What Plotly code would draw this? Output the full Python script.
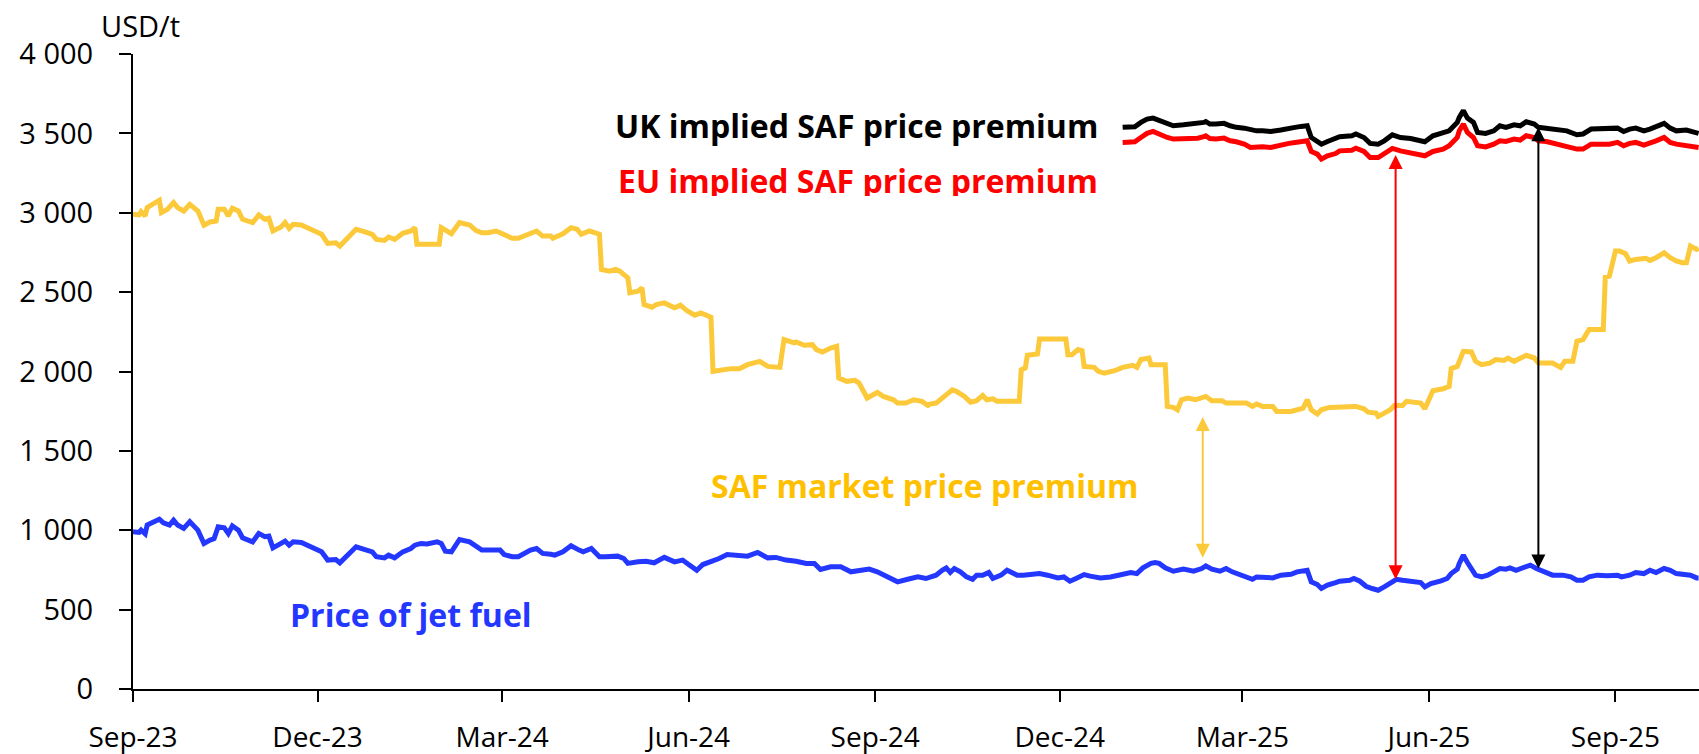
import pandas as pd
import plotly.graph_objects as go

START = pd.Timestamp("2023-09-01")

# ---- data (day offsets from 1 Sep 2023, values in USD/t) ----
jet_days = [0, 3, 4, 6, 7, 9, 13, 15, 18, 20, 22, 25, 28, 32, 33, 35, 38, 40, 42, 45,
            47, 49, 52, 54, 59, 62, 65, 67, 69, 73, 75, 77, 79, 83, 86, 90, 93, 96, 100, 102,
            106, 110, 114, 118, 120, 124, 126, 129, 133, 137, 139, 142, 145, 150, 152, 154, 157, 159, 161, 166,
            169, 172, 175, 179, 181, 183, 187, 190, 193,
            196, 199, 202, 206, 208, 212, 216, 220, 222, 226, 230, 233, 235, 239, 242, 244, 249, 253, 257, 262,
            267, 271, 274, 278, 281, 286, 289, 293, 299, 303, 308, 313, 317, 322, 327, 332, 336, 339, 344, 349,
            354, 359, 363, 367, 372, 377, 382, 387, 391,
            393, 396, 399, 401, 403, 405, 408, 411, 414, 416, 419, 422, 424, 428, 431, 436, 439, 442, 447, 451,
            456, 459, 462, 465, 469, 472, 477, 482, 487, 492, 495, 498, 502, 504, 506, 509, 513, 518, 523, 527,
            529, 532, 536, 539, 542, 546, 549, 552, 554, 557, 562, 566, 571, 574, 577, 579, 581, 584, 586, 589,
            593, 595,
            600, 602, 605, 608, 611, 614, 617, 620, 623, 626, 631, 635, 637, 640, 645, 648, 650, 653, 654, 656,
            658, 660, 662, 665, 668, 671, 674, 677, 679, 682, 686, 689, 692, 696, 700, 705, 709, 712, 715, 718,
            722, 727, 732, 734, 738, 741, 745, 748, 751, 755, 758, 761, 764, 768, 771, 772]
jet_fuel = [990, 986, 1001, 978, 1033, 1047, 1070, 1047, 1033, 1064, 1033, 1012, 1054, 1001, 970, 917, 938, 948, 1022, 1016,
            980, 1028, 1001, 953, 927, 980, 959, 963, 889, 917, 932, 906, 927, 923, 906, 875, 864, 812, 816, 795,
            843, 896, 879, 864, 833, 826, 843, 826, 864, 885, 906, 917, 913, 927, 917, 868, 864, 906, 942, 927,
            896, 875, 875, 875, 875, 847, 833, 833, 854,
            875, 885, 854, 849, 843, 864, 902, 875, 864, 885, 833, 833, 833, 837, 822, 791, 801, 805, 795, 829,
            801, 812, 784, 748, 784, 805, 822, 847, 839, 837, 860, 826, 829, 812, 805, 791, 791, 753, 770, 770,
            738, 749, 755, 738, 706, 675, 691, 706, 696,
            706, 717, 748, 763, 734, 759, 738, 706, 691, 717, 717, 734, 696, 717, 748, 717, 717, 721, 727, 717,
            700, 706, 679, 696, 721, 711, 700, 706, 717, 734, 727, 763, 791, 797, 791, 763, 742, 755, 742, 759,
            776, 755, 742, 759, 738, 717, 706, 691, 706, 706, 700, 717, 723, 738, 742, 748, 675, 658, 633, 654,
            670, 679,
            685, 696, 679, 647, 633, 622, 643, 670, 691, 685, 675, 670, 643, 664, 681, 696, 727, 755, 791, 843,
            797, 759, 717, 706, 717, 738, 759, 755, 763, 748, 770, 780, 759, 738, 717, 717, 706, 685, 685, 706,
            717, 713, 717, 706, 717, 734, 727, 748, 734, 759, 748, 727, 721, 717, 700, 700]

saf_days = [0, 3, 4, 6, 7, 9, 12, 13, 14, 17, 20, 22, 25, 28, 32, 33, 35, 38, 41, 42,
            45, 47, 49, 52, 54, 59, 62, 65, 67, 69, 73, 75, 77, 79, 83, 86, 90, 93, 96, 100,
            102, 106, 110, 114, 118, 120, 124, 126, 129, 133, 137, 139, 140, 145, 150, 151, 152, 157, 161, 166,
            169, 172, 175, 179, 181, 183, 187, 190, 193,
            196, 199, 202, 206, 207, 212, 216, 219, 221, 225, 228, 230, 231, 235, 238, 240, 244, 245, 249, 251,
            252, 256, 258, 262, 267, 270, 273, 277, 280, 285, 286, 290, 295, 299, 303, 309, 313, 319, 321, 326,
            327, 331, 335, 337, 340, 344, 347, 348, 352, 356, 358, 362, 367, 370, 375, 377, 381, 385, 389, 392,
            393, 396, 400, 403, 404, 406, 410, 413, 416, 419, 421, 424, 426, 429, 437, 438, 440, 441, 444, 446,
            447, 451, 460, 461, 463, 466, 468, 469, 472, 474, 476, 479, 484, 488, 493, 495, 497, 501, 502, 509,
            510, 513, 515, 517, 520, 524, 529, 532, 537, 539, 549, 552, 554, 557, 562, 564, 571, 574, 577, 579,
            581, 584, 586, 590, 595,
            600, 603, 607, 609, 613, 614, 617, 620, 622, 626, 628, 633, 635, 637, 640, 641, 646, 649, 650, 653,
            656, 660, 662, 665, 669, 672, 676, 678, 681, 684, 687, 691, 693, 697, 700, 704, 706, 710, 712, 715,
            717, 718, 725, 726, 728, 731, 733, 736, 738, 741, 746, 748, 751, 755, 758, 761, 764, 766, 768, 771,
            772]
saf_price = [2990, 2986, 3007, 2980, 3032, 3047, 3064, 3079, 3001, 3022, 3064, 3032, 3011, 3053, 3011, 2980, 2921, 2942, 2948, 3022,
             3022, 2980, 3028, 3011, 2959, 2938, 2986, 2959, 2965, 2885, 2910, 2938, 2902, 2927, 2923, 2906, 2881, 2864, 2807, 2811,
             2790, 2843, 2896, 2881, 2864, 2832, 2826, 2847, 2832, 2870, 2885, 2906, 2801, 2801, 2807, 2801, 2906, 2868, 2938, 2923,
             2889, 2874, 2874, 2885, 2874, 2860, 2839, 2839, 2853,
             2864, 2885, 2853, 2853, 2839, 2868, 2906, 2896, 2864, 2885, 2874, 2864, 2643, 2632, 2643, 2632, 2590, 2496, 2506, 2527,
             2422, 2405, 2422, 2432, 2401, 2418, 2384, 2355, 2369, 2342, 2001, 2011, 2018, 2018, 2043, 2064, 2032, 2026, 2201, 2180,
             2186, 2165, 2169, 2138, 2123, 2148, 2159, 1959, 1938, 1944, 1927, 1833, 1868, 1843, 1822, 1801, 1801, 1822, 1812, 1786,
             1795, 1801, 1843, 1875, 1885, 1875, 1843, 1807, 1816, 1849, 1822, 1828, 1812, 1812, 1812, 2011, 2022, 2102, 2106, 2110,
             2205, 2205, 2205, 2106, 2106, 2138, 2131, 2032, 2032, 2026, 2001, 1990, 2005, 2026, 2039, 2026, 2075, 2085, 2043, 2043,
             1780, 1774, 1759, 1822, 1833, 1822, 1843, 1816, 1816, 1801, 1801, 1780, 1795, 1780, 1780, 1748, 1748, 1759, 1769, 1822,
             1759, 1732, 1759, 1774, 1774,
             1774, 1780, 1765, 1744, 1738, 1717, 1738, 1759, 1786, 1786, 1812, 1807, 1801, 1765, 1864, 1879, 1891, 1906, 2018, 2032,
             2127, 2123, 2064, 2043, 2053, 2075, 2070, 2085, 2064, 2085, 2102, 2085, 2053, 2053, 2053, 2026, 2064, 2064, 2190, 2201,
             2254, 2264, 2264, 2595, 2601, 2759, 2759, 2742, 2696, 2706, 2713, 2700, 2717, 2748, 2717, 2696, 2685, 2685, 2790, 2769,
             2776]

implied_days = [488, 492, 494, 497, 500, 503, 506, 510, 513, 518, 523, 525, 528, 529, 531, 534, 538, 541, 544, 548,
                551, 554, 557, 561, 566, 570, 573, 576, 579, 581, 584, 586, 589, 593, 595,
                601, 603, 607, 610, 614, 617, 621, 625, 630, 633, 637, 641, 646, 649, 653, 654, 656, 658, 661, 663,
                667, 671, 674, 677, 681, 684, 687, 691, 693, 697, 702, 707, 712, 715, 719, 723, 728, 732, 735, 738,
                741, 745, 748, 751, 755, 758, 761, 766, 769, 772]
uk_implied = [3538, 3538, 3542, 3569, 3590, 3596, 3584, 3563, 3548, 3554, 3559, 3563, 3569, 3575, 3559, 3559, 3563, 3548, 3538, 3533,
              3521, 3516, 3516, 3512, 3521, 3527, 3538, 3544, 3548, 3474, 3453, 3432, 3449, 3464, 3479,
              3485, 3496, 3474, 3437, 3432, 3453, 3491, 3474, 3468, 3460, 3447, 3485, 3500, 3516, 3569, 3601, 3643, 3596, 3569, 3506,
              3500, 3516, 3548, 3538, 3554, 3548, 3573, 3559, 3538, 3533, 3527, 3516, 3491, 3496, 3527, 3527, 3527, 3533, 3512, 3527,
              3533, 3516, 3527, 3544, 3563, 3533, 3516, 3521, 3512, 3500]
eu_implied = [3443, 3443, 3447, 3474, 3500, 3512, 3495, 3474, 3464, 3464, 3464, 3470, 3479, 3485, 3468, 3464, 3470, 3453, 3447, 3432,
              3411, 3415, 3415, 3411, 3428, 3437, 3443, 3447, 3453, 3386, 3369, 3338, 3359, 3373, 3390,
              3394, 3407, 3386, 3348, 3348, 3369, 3405, 3390, 3380, 3373, 3359, 3386, 3401, 3422, 3474, 3516, 3559, 3506, 3474, 3422,
              3415, 3432, 3453, 3449, 3464, 3458, 3485, 3474, 3453, 3449, 3432, 3422, 3401, 3401, 3432, 3432, 3432, 3443, 3422, 3437,
              3443, 3426, 3437, 3453, 3474, 3443, 3432, 3422, 3415, 3411]

# premium arrows: day offset, lower end, upper end
arrow_days = [527.5, 622.6, 693.0]
arrow_low = [826, 692, 759]
arrow_high = [1723, 3373, 3548]

x_tick_dates = ["2023-09-01", "2023-12-01", "2024-03-01", "2024-06-01", "2024-09-01",
                "2024-12-01", "2025-03-01", "2025-06-01", "2025-09-01"]
x_tick_labels = ["Sep-23", "Dec-23", "Mar-24", "Jun-24", "Sep-24",
                 "Dec-24", "Mar-25", "Jun-25", "Sep-25"]
y_tick_vals = [0, 500, 1000, 1500, 2000, 2500, 3000, 3500, 4000]
y_tick_labels = ["0", "500", "1 000", "1 500", "2 000", "2 500", "3 000", "3 500", "4 000"]

YELLOW = "#FCC93A"
BLUE = "#2337FF"
RED = "#FF0000"
BLACK = "#000000"
FONT = "Open Sans"


def to_dates(days):
    return START + pd.to_timedelta(pd.Series(days, dtype=float), unit="D")


def d(day):
    return START + pd.Timedelta(days=day)


fig = go.Figure()
fig.add_trace(go.Scatter(x=to_dates(saf_days), y=saf_price, mode="lines",
                         line=dict(color=YELLOW, width=5), name="SAF market price"))
fig.add_trace(go.Scatter(x=to_dates(jet_days), y=jet_fuel, mode="lines",
                         line=dict(color=BLUE, width=5), name="Price of jet fuel"))
fig.add_trace(go.Scatter(x=to_dates(implied_days), y=uk_implied, mode="lines",
                         line=dict(color=BLACK, width=5), name="UK implied"))
fig.add_trace(go.Scatter(x=to_dates(implied_days), y=eu_implied, mode="lines",
                         line=dict(color=RED, width=5), name="EU implied"))

annotations = []
for day, lo, hi, col in zip(arrow_days, arrow_low, arrow_high, [YELLOW, RED, BLACK]):
    annotations.append(dict(
        x=d(day), y=lo, ax=d(day), ay=hi, xref="x", yref="y", axref="x", ayref="y",
        text="", showarrow=True, arrowhead=2, startarrowhead=2, arrowside="end+start",
        arrowwidth=2, arrowsize=1.4, startarrowsize=1.4, arrowcolor=col))

annotations += [
    dict(text="USD/t", xref="paper", yref="paper", x=0, y=1, xanchor="left", yanchor="middle",
         xshift=-34, yshift=29, showarrow=False, font=dict(family=FONT, size=29, color=BLACK)),
    dict(text="<b>UK implied SAF price premium</b>", x=d(476.9), y=3551, xanchor="right",
         yanchor="middle", showarrow=False, font=dict(family=FONT, size=32, color=BLACK)),
    dict(text="<b>EU implied SAF price premium</b>", x=d(476.9), y=3354, xanchor="right",
         yanchor="top", valign="top", height=37, showarrow=False,
         font=dict(family=FONT, size=32, color=RED)),
    dict(text="<b>SAF market price premium</b>", x=d(390.4), y=1281, xanchor="center",
         yanchor="middle", showarrow=False, font=dict(family=FONT, size=32, color="#FFC000")),
    dict(text="<b>Price of jet fuel</b>", x=d(137.3), y=472, xanchor="center",
         yanchor="middle", showarrow=False, font=dict(family=FONT, size=32, color=BLUE)),
]

fig.update_layout(
    width=1699, height=754,
    margin=dict(l=133, r=0, t=54, b=65, pad=0),
    paper_bgcolor="white", plot_bgcolor="white",
    showlegend=False,
    font=dict(family=FONT, size=28, color=BLACK),
    annotations=annotations,
    xaxis=dict(
        type="date", range=[d(0), d(772.2)],
        tickvals=x_tick_dates, ticktext=x_tick_labels,
        showgrid=False, zeroline=False,
        showline=True, linecolor=BLACK, linewidth=2,
        ticks="outside", ticklen=11, tickwidth=2, tickcolor=BLACK,
        tickfont=dict(family=FONT, size=28, color=BLACK),
        ticklabelstandoff=11,
    ),
    yaxis=dict(
        range=[0, 4000], tickvals=y_tick_vals, ticktext=y_tick_labels,
        showgrid=False, zeroline=False,
        showline=True, linecolor=BLACK, linewidth=2,
        ticks="outside", ticklen=12, tickwidth=2, tickcolor=BLACK,
        tickfont=dict(family=FONT, size=29, color=BLACK),
        ticklabelstandoff=20,
    ),
)

fig.write_html(
    "out.html",
    config={"displayModeBar": False},
    post_script="document.body.style.margin='0';document.body.style.padding='0';",
)
